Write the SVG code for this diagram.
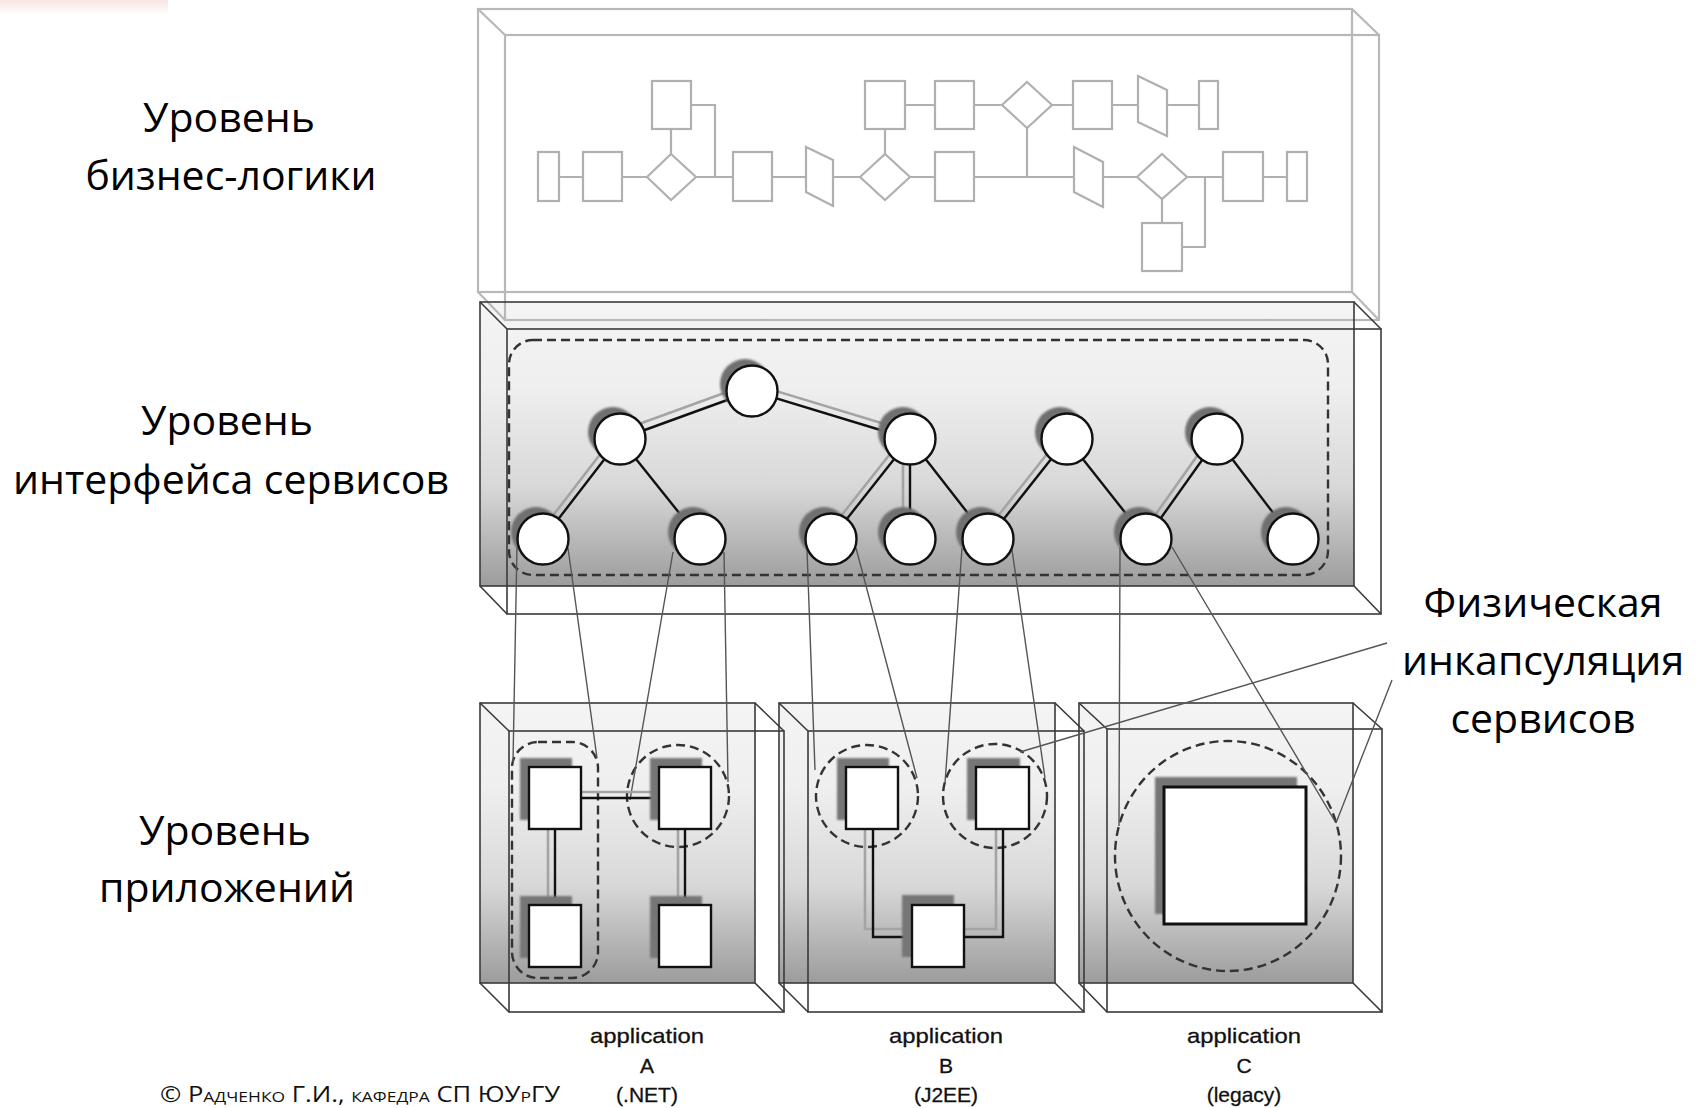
<svg xmlns="http://www.w3.org/2000/svg" width="1697" height="1108" viewBox="0 0 1697 1108">
<defs>
<linearGradient id="shade" x1="0" y1="0" x2="0" y2="1">
<stop offset="0" stop-color="#f4f4f4"/>
<stop offset="0.3" stop-color="#efefef"/>
<stop offset="0.65" stop-color="#d8d8d8"/>
<stop offset="1" stop-color="#9c9c9c"/>
</linearGradient>
<linearGradient id="pink" x1="0" y1="0" x2="0" y2="1">
<stop offset="0" stop-color="#f8e4e4"/>
<stop offset="1" stop-color="#ffffff"/>
</linearGradient>
<filter id="blur" x="-30%" y="-30%" width="160%" height="160%"><feGaussianBlur stdDeviation="1.3"/></filter>
<filter id="blur1" x="-30%" y="-30%" width="160%" height="160%"><feGaussianBlur stdDeviation="1.1"/></filter>
<style>
.lbl{font-family:"Open Sans","Noto Sans","DejaVu Sans",sans-serif;font-size:41px;fill:#000;text-anchor:middle}
.cap{font-family:"Liberation Sans",Arial,sans-serif;font-size:21px;fill:#111;stroke:#111;stroke-width:0.3;text-anchor:middle}
.foot{font-family:"Open Sans","Noto Sans",sans-serif;font-size:22px;font-variant:small-caps;fill:#111}
.fill{fill:url(#shade);stroke:none}
.frame{fill:none;stroke:#3a3a3a;stroke-width:1.6}
.frameL{fill:none;stroke:#b8b8b8;stroke-width:2.2}
.bp{fill:#fff;stroke:#b0b0b0;stroke-width:2.2}
.bpl{fill:none;stroke:#b0b0b0;stroke-width:2.2}
.dash{fill:none;stroke:#333;stroke-width:2.4;stroke-dasharray:9 5}
.edge{stroke:#111;stroke-width:2.4;fill:none}
.edge2{stroke:#a4a4a4;stroke-width:2.6;fill:none}
.link{stroke:#555;stroke-width:1.4;fill:none}
.svc{fill:#fff;stroke:#111;stroke-width:2.4}
.shd{fill:#6f6f6f;filter:url(#blur)}
.shdr{fill:#767676;filter:url(#blur1)}
.comp{fill:#fff;stroke:#111;stroke-width:2.4}
</style>
</defs>
<rect width="1697" height="1108" fill="#fff"/>
<rect x="0" y="0" width="168" height="15" fill="url(#pink)"/>

<!-- fills -->
<g id="fills">
<rect class="fill" x="480" y="302" width="874" height="284"/>
<rect class="fill" x="480" y="703" width="275" height="280"/>
<rect class="fill" x="779" y="703" width="276" height="280"/>
<rect class="fill" x="1079" y="703" width="274" height="280"/>
</g>

<!-- business layer box -->
<g id="layer-business">
<rect class="frameL" x="478" y="9" width="874" height="283"/>
<rect class="frameL" x="505" y="35" width="874" height="285"/>
<path class="frameL" d="M478,9 L505,35 M1352,9 L1379,35 M478,292 L505,320 M1352,292 L1379,320"/>
</g>

<!-- services layer box -->
<g id="layer-services">
<rect class="frame" x="480" y="302" width="874" height="284"/>
<rect class="frame" x="507" y="329" width="874" height="285"/>
<path class="frame" d="M480,302 L507,329 M1354,302 L1381,329 M480,586 L507,614 M1354,586 L1381,614"/>
<rect class="dash" x="509" y="340" width="819" height="235" rx="24"/>
</g>

<!-- application boxes -->
<g id="app-A-box">
<rect class="frame" x="480" y="703" width="275" height="280"/>
<rect class="frame" x="509" y="731" width="275" height="281"/>
<path class="frame" d="M480,703 L509,731 M755,703 L784,731 M480,983 L509,1012 M755,983 L784,1012"/>
<rect class="dash" x="512" y="742" width="86" height="236" rx="26"/>
<circle class="dash" cx="678" cy="796" r="51"/>
</g>
<g id="app-B-box">
<rect class="frame" x="779" y="703" width="276" height="280"/>
<rect class="frame" x="808" y="731" width="276" height="281"/>
<path class="frame" d="M779,703 L808,731 M1055,703 L1084,731 M779,983 L808,1012 M1055,983 L1084,1012"/>
<circle class="dash" cx="867" cy="796" r="51"/>
<circle class="dash" cx="995" cy="796" r="52"/>
</g>
<g id="app-C-box">
<rect class="frame" x="1079" y="703" width="274" height="280"/>
<rect class="frame" x="1107" y="729" width="275" height="283"/>
<path class="frame" d="M1079,703 L1107,729 M1353,703 L1382,729 M1079,983 L1107,1012 M1353,983 L1382,1012"/>
<ellipse class="dash" cx="1228" cy="856" rx="113" ry="115"/>
</g>

<!-- connectors -->
<g id="connectors">
<g id="bp-connectors">
<path class="bpl" d="M559,177 H583 M622,177 H647 M671,154 V129 M691,105 H715 V177 M696,177 H733 M772,177 H806 M833,177 H860 M885,154 V129 M905,105 H935 M974,105 H1002 M1052,105 H1073 M1112,105 H1138 M1167,105 H1199 M910,177 H935 M974,177 H1074 M1027,128 V177 M1103,177 H1137 M1187,177 H1223 M1263,177 H1287 M1162,199 V223 M1182,247 H1205 V177"/>
</g>
<g id="svc-edges">
<path class="edge2" d="M749,384 L617,432 M753,384 L911,432 M615,435 L538,535 M905,435 L826,535 M903,439 V539 M1062,435 L983,535 M1212,435 L1141,535"/>
<path class="edge" d="M752,391 L620,439 M752,391 L910,439 M620,439 L543,539 M620,439 L700,539 M910,439 L831,539 M910,439 V539 M910,439 L988,539 M1067,439 L988,539 M1067,439 L1146,539 M1217,439 L1146,539 M1217,439 L1293,539"/>
</g>
<g id="layer-links">
<path class="link" d="M517,545 L513,762 M568,548 L597,758 M673,552 L630,800 M724,552 L728,782 M807,550 L815,770 M856,548 L917,778 M962,548 L945,783 M1012,550 L1045,778 M1120,547 L1119,826 M1172,547 L1336,823"/>
</g>
<g id="app-edges">
<path class="edge2" d="M581,792 H659 M548,829 V905 M678,829 V905 M865,829 V929 H912 M996,829 V929 H964"/>
<path class="edge" d="M581,798 H659 M555,829 V905 M685,829 V905 M873,829 V937 H912 M1003,829 V937 H964"/>
</g>
<g id="annotation-pointers">
<path class="link" d="M1387,643 L1020,752 M1392,680 L1336,823"/>
</g>
</g>

<!-- business process nodes -->
<g id="bp-nodes">
<g id="bp1"><rect class="bp" x="538" y="152" width="21" height="49"/></g>
<g id="bp2"><rect class="bp" x="583" y="152" width="39" height="49"/></g>
<g id="bp3"><polygon class="bp" points="647,177 671,154 696,177 671,200"/></g>
<g id="bp4"><rect class="bp" x="652" y="81" width="39" height="48"/></g>
<g id="bp5"><rect class="bp" x="733" y="152" width="39" height="49"/></g>
<g id="bp6"><polygon class="bp" points="806,147 833,160 833,206 806,192"/></g>
<g id="bp7"><polygon class="bp" points="860,177 885,154 910,177 885,200"/></g>
<g id="bp8"><rect class="bp" x="865" y="81" width="40" height="48"/></g>
<g id="bp9"><rect class="bp" x="935" y="81" width="39" height="48"/></g>
<g id="bp10"><polygon class="bp" points="1002,105 1027,82 1052,105 1027,128"/></g>
<g id="bp11"><rect class="bp" x="935" y="152" width="39" height="49"/></g>
<g id="bp12"><rect class="bp" x="1073" y="81" width="39" height="48"/></g>
<g id="bp13"><polygon class="bp" points="1138,76 1167,90 1167,136 1138,122"/></g>
<g id="bp14"><rect class="bp" x="1199" y="81" width="19" height="48"/></g>
<g id="bp15"><polygon class="bp" points="1074,147 1103,162 1103,207 1074,192"/></g>
<g id="bp16"><polygon class="bp" points="1137,177 1162,154 1187,177 1162,199"/></g>
<g id="bp17"><rect class="bp" x="1223" y="152" width="40" height="49"/></g>
<g id="bp18"><rect class="bp" x="1287" y="152" width="20" height="49"/></g>
<g id="bp19"><rect class="bp" x="1142" y="223" width="40" height="48"/></g>
</g>

<!-- service nodes -->
<g id="svc-nodes">
<g id="svc-T0"><circle class="shd" cx="745" cy="384" r="25"/><circle class="svc" cx="752" cy="391" r="25.5"/></g>
<g id="svc-M1"><circle class="shd" cx="613" cy="432" r="25"/><circle class="svc" cx="620" cy="439" r="25.5"/></g>
<g id="svc-M2"><circle class="shd" cx="903" cy="432" r="25"/><circle class="svc" cx="910" cy="439" r="25.5"/></g>
<g id="svc-M3"><circle class="shd" cx="1060" cy="432" r="25"/><circle class="svc" cx="1067" cy="439" r="25.5"/></g>
<g id="svc-M4"><circle class="shd" cx="1210" cy="432" r="25"/><circle class="svc" cx="1217" cy="439" r="25.5"/></g>
<g id="svc-B1"><circle class="shd" cx="536" cy="532" r="25"/><circle class="svc" cx="543" cy="539" r="25.5"/></g>
<g id="svc-B2"><circle class="shd" cx="693" cy="532" r="25"/><circle class="svc" cx="700" cy="539" r="25.5"/></g>
<g id="svc-B3"><circle class="shd" cx="824" cy="532" r="25"/><circle class="svc" cx="831" cy="539" r="25.5"/></g>
<g id="svc-B4"><circle class="shd" cx="903" cy="532" r="25"/><circle class="svc" cx="910" cy="539" r="25.5"/></g>
<g id="svc-B5"><circle class="shd" cx="981" cy="532" r="25"/><circle class="svc" cx="988" cy="539" r="25.5"/></g>
<g id="svc-B6"><circle class="shd" cx="1139" cy="532" r="25"/><circle class="svc" cx="1146" cy="539" r="25.5"/></g>
<g id="svc-B7"><circle class="shd" cx="1286" cy="532" r="25"/><circle class="svc" cx="1293" cy="539" r="25.5"/></g>
</g>

<!-- application components -->
<g id="app-nodes">
<g id="A-TL"><rect class="shdr" x="520" y="758" width="52" height="62"/><rect class="comp" x="529" y="767" width="52" height="62"/></g>
<g id="A-BL"><rect class="shdr" x="520" y="896" width="52" height="62"/><rect class="comp" x="529" y="905" width="52" height="62"/></g>
<g id="A-TR"><rect class="shdr" x="650" y="758" width="52" height="62"/><rect class="comp" x="659" y="767" width="52" height="62"/></g>
<g id="A-BR"><rect class="shdr" x="650" y="896" width="52" height="62"/><rect class="comp" x="659" y="905" width="52" height="62"/></g>
<g id="B-TL"><rect class="shdr" x="837" y="758" width="52" height="62"/><rect class="comp" x="846" y="767" width="52" height="62"/></g>
<g id="B-TR"><rect class="shdr" x="967" y="758" width="53" height="62"/><rect class="comp" x="976" y="767" width="53" height="62"/></g>
<g id="B-BOT"><rect class="shdr" x="902" y="895" width="52" height="62"/><rect class="comp" x="912" y="905" width="52" height="62"/></g>
<g id="C-MAIN"><rect class="shdr" x="1155" y="777" width="142" height="137"/><rect class="comp" x="1164" y="787" width="142" height="137" style="stroke-width:3"/></g>
</g>

<!-- labels -->
<g id="label-business"><text class="lbl" x="229" y="132">Уровень</text><text class="lbl" x="231" y="190">бизнес-логики</text></g>
<g id="label-services"><text class="lbl" x="227" y="435">Уровень</text><text class="lbl" x="231" y="494">интерфейса сервисов</text></g>
<g id="label-apps"><text class="lbl" x="225" y="845">Уровень</text><text class="lbl" x="227" y="902">приложений</text></g>
<g id="label-physical"><text class="lbl" x="1543" y="617">Физическая</text><text class="lbl" x="1543" y="675">инкапсуляция</text><text class="lbl" x="1543" y="733">сервисов</text></g>
<g id="captions">
<text class="cap" x="647" y="1043" textLength="114" lengthAdjust="spacingAndGlyphs">application</text><text class="cap" x="647" y="1073">A</text><text class="cap" x="647" y="1102">(.NET)</text>
<text class="cap" x="946" y="1043" textLength="114" lengthAdjust="spacingAndGlyphs">application</text><text class="cap" x="946" y="1073">B</text><text class="cap" x="946" y="1102">(J2EE)</text>
<text class="cap" x="1244" y="1043" textLength="114" lengthAdjust="spacingAndGlyphs">application</text><text class="cap" x="1244" y="1073">C</text><text class="cap" x="1244" y="1102">(legacy)</text>
</g>
<g id="footer"><text class="foot" x="160" y="1102" textLength="400" lengthAdjust="spacingAndGlyphs">© Радченко Г.И., кафедра СП ЮУрГУ</text></g>
</svg>
